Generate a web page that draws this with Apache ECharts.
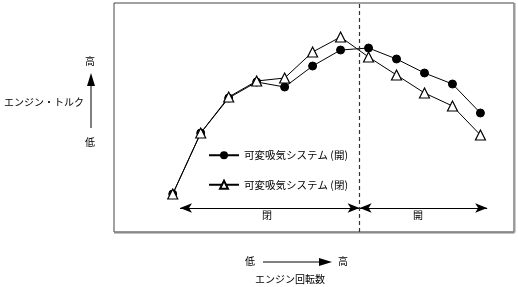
<!DOCTYPE html>
<html><head><meta charset="utf-8">
<script src="https://cdn.jsdelivr.net/npm/echarts@6/dist/echarts.min.js"></script>
<style>html,body{margin:0;padding:0;background:#fff}#c{width:518px;height:287px}</style>
</head><body><div id="c"></div>
<script>
const rpmIndex = [0,1,2,3,4,5,6,7,8,9,10,11];
const openSeries = [38,99,134,150,145,166,182,184,173,159,148,119];
const closedSeries = [38,99,135,151,154,180,195,175,157,139,126,97];
const legendNames = ['可変吸気システム (開)','可変吸気システム (閉)'];
const switchPoint = 6.68;
const arrowLevel = 24;
const arrowStart = 0.26, arrowEnd = 11.24;
const zoneLabels = ['閉','開'];

const FONT = '"Noto Sans CJK JP", sans-serif';
const chart = echarts.init(document.getElementById('c'), null, {renderer:'canvas'});
const toPts = arr => arr.map((v,i)=>[rpmIndex[i], v]);

chart.setOption({
  animation:false,
  textStyle:{fontFamily:FONT},
  grid:{left:114, top:3, right:4, bottom:55, show:true, borderColor:'#444', borderWidth:1},
  xAxis:{type:'value', min:-2.1, max:12.2, axisLine:{show:false}, axisTick:{show:false}, axisLabel:{show:false}, splitLine:{show:false}},
  yAxis:{type:'value', min:0, max:229, axisLine:{show:false}, axisTick:{show:false}, axisLabel:{show:false}, splitLine:{show:false}},
  legend:{orient:'vertical', left:203, top:145, itemWidth:30, itemHeight:10, itemGap:19,
    textStyle:{fontFamily:FONT, fontSize:10.5, color:'#000'}, data:legendNames},
  series:[
    {name:legendNames[0], type:'line', data:toPts(openSeries), symbol:'circle', symbolSize:8,
     lineStyle:{color:'#000', width:1}, itemStyle:{color:'#000', borderColor:'#000'}, z:2,
     markLine:{silent:true, symbol:['arrow','arrow'], symbolSize:[7,12],
       lineStyle:{color:'#000', width:1.2, type:'solid'}, label:{show:false},
       data:[
         [{coord:[arrowStart, arrowLevel]},{coord:[switchPoint, arrowLevel]}],
         [{coord:[switchPoint, arrowLevel]},{coord:[arrowEnd, arrowLevel]}]
       ]}},
    {name:legendNames[1], type:'line', data:toPts(closedSeries), symbol:'triangle', symbolSize:10,
     lineStyle:{color:'#000', width:1}, itemStyle:{color:'#fff', borderColor:'#000', borderWidth:1.2}, z:3,
     markLine:{silent:true, symbol:['none','none'], lineStyle:{color:'#333', width:1.2, type:[4,3]}, label:{show:false},
       data:[[{coord:[switchPoint,0]},{coord:[switchPoint,229]}]]}}
  ],
  graphic:[
    {type:'line', shape:{x1:114, y1:232.5, x2:514.5, y2:232.5}, style:{stroke:'#888', lineWidth:2}},
    {type:'line', shape:{x1:514.5, y1:3, x2:514.5, y2:232.5}, style:{stroke:'#999', lineWidth:2}},
    {type:'text', left:262, top:210, style:{text:zoneLabels[0], font:'10px '+FONT, fill:'#000'}},
    {type:'text', left:413, top:210, style:{text:zoneLabels[1], font:'10px '+FONT, fill:'#000'}},
    {type:'text', left:85, top:56, style:{text:'高', font:'10px '+FONT, fill:'#000'}},
    {type:'text', left:85, top:137, style:{text:'低', font:'10px '+FONT, fill:'#000'}},
    {type:'text', left:4, top:97, style:{text:'エンジン・トルク', font:'10px '+FONT, fill:'#000'}},
    {type:'line', shape:{x1:91, y1:128, x2:91, y2:84}, style:{stroke:'#000', lineWidth:1}},
    {type:'polygon', shape:{points:[[91,73],[87,86],[95,86]]}, style:{fill:'#000'}},
    {type:'text', left:245, top:256, style:{text:'低', font:'10px '+FONT, fill:'#000'}},
    {type:'text', left:338, top:256, style:{text:'高', font:'10px '+FONT, fill:'#000'}},
    {type:'line', shape:{x1:263, y1:262, x2:320, y2:262}, style:{stroke:'#000', lineWidth:1}},
    {type:'polygon', shape:{points:[[332,262],[319,258],[319,266]]}, style:{fill:'#000'}},
    {type:'text', left:255, top:274, style:{text:'エンジン回転数', font:'10px '+FONT, fill:'#000'}}
  ]
});
</script></body></html>
